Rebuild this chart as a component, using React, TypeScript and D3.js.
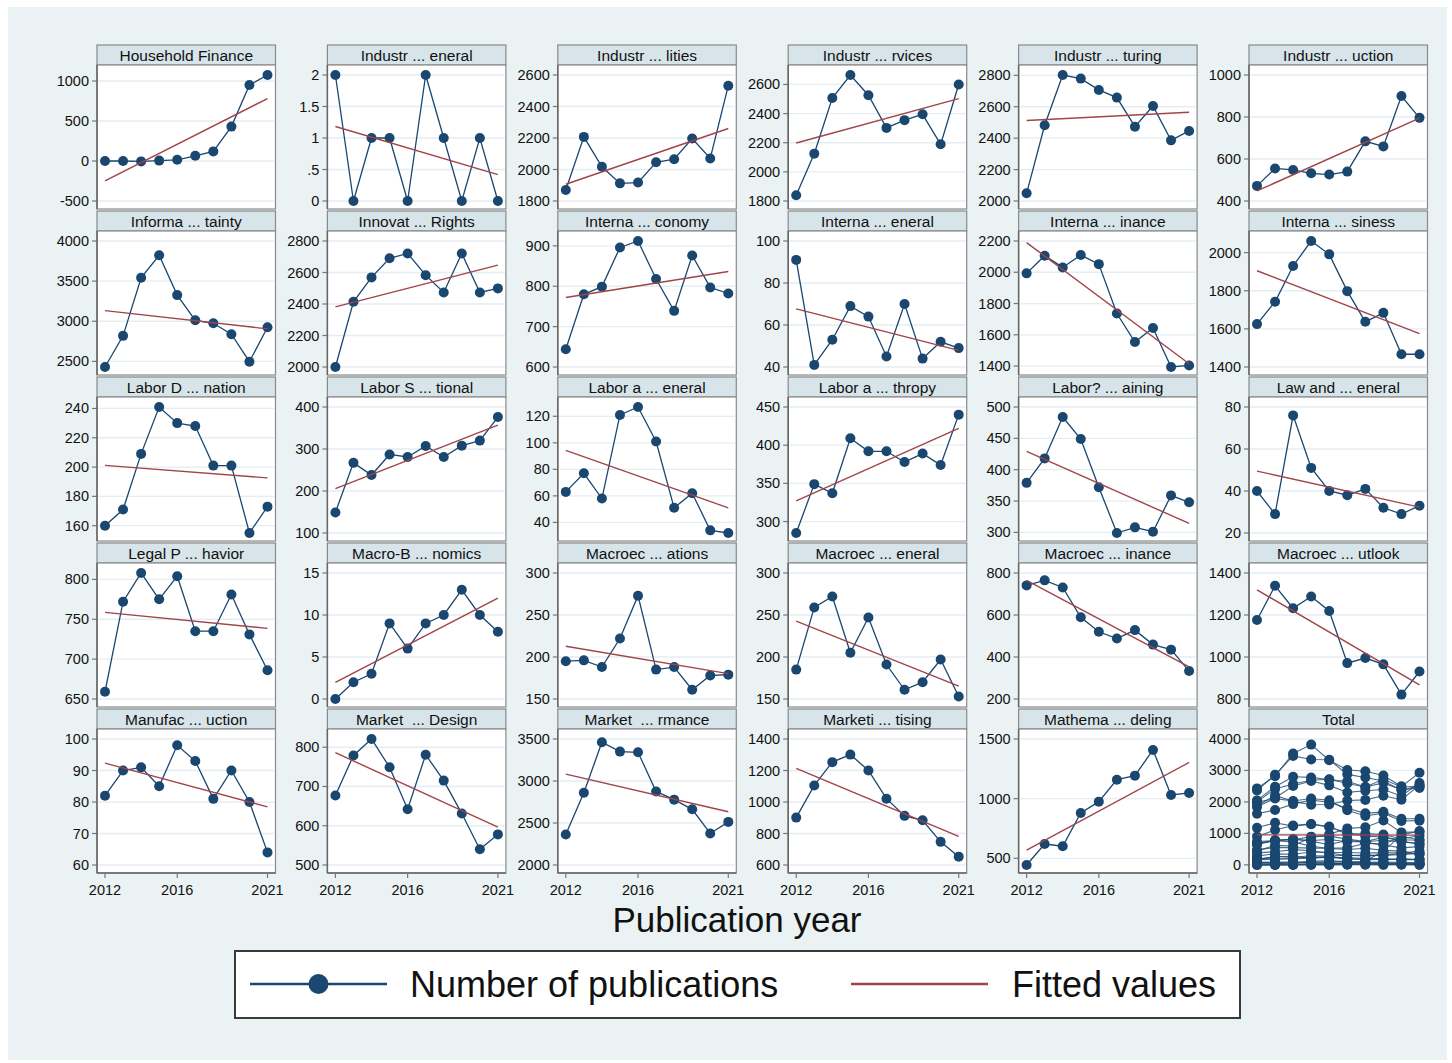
import React from "react";
import * as d3 from "d3";

// ---------- data ----------
const years = [2012, 2013, 2014, 2015, 2016, 2017, 2018, 2019, 2020, 2021];
const xTickValues = [2012, 2016, 2021];

const householdFinance = [0, 0, -5, 5, 15, 65, 120, 430, 950, 1075];
const industrialGeneral = [2, 0, 1, 1, 0, 2, 1, 0, 1, 0];
const industrialUtilities = [1870, 2207, 2017, 1912, 1917, 2046, 2065, 2197, 2070, 2532];
const industrialServices = [1839, 2125, 2507, 2665, 2526, 2302, 2355, 2395, 2189, 2600];
const industrialManufacturing = [2049, 2482, 2802, 2779, 2707, 2658, 2473, 2605, 2386, 2446];
const industrialProduction = [472, 555, 548, 532, 526, 540, 684, 660, 900, 796];
const informationUncertainty = [2430, 2818, 3541, 3822, 3326, 3012, 2975, 2839, 2496, 2926];
const innovationRights = [2000, 2414, 2569, 2690, 2721, 2583, 2473, 2721, 2473, 2499];
const internationalEconomy = [644, 780, 799, 896, 912, 818, 739, 876, 797, 782];
const internationalGeneral = [91, 41, 53, 69, 64, 45, 70, 44, 52, 49];
const internationalFinance = [1993, 2106, 2031, 2110, 2052, 1736, 1554, 1644, 1394, 1404];
const internationalBusiness = [1625, 1742, 1930, 2061, 1991, 1798, 1637, 1684, 1467, 1467];
const laborDiscrimination = [160, 171, 209, 241, 230, 228, 201, 201, 155, 173];
const laborInstitutional = [149, 267, 238, 287, 281, 307, 281, 308, 320, 376];
const laborGeneral = [63, 77, 58, 121, 127, 101, 51, 62, 34, 32];
const laborPhilanthropy = [285, 349, 337, 409, 392, 392, 378, 389, 374, 440];
const laborTraining = [379, 418, 484, 449, 372, 299, 308, 301, 359, 348];
const lawGeneral = [40, 29, 76, 51, 40, 38, 41, 32, 29, 33];
const legalBehavior = [659, 772, 808, 775, 804, 735, 735, 781, 731, 686];
const macroBehavioral = [0, 2, 3, 9, 6, 9, 10, 13, 10, 8];
const macroFluctuations = [195, 196, 188, 222, 273, 185, 188, 161, 178, 179];
const macroGeneral = [185, 259, 272, 205, 247, 191, 161, 170, 197, 153];
const macroFinance = [741, 765, 731, 589, 520, 488, 528, 459, 435, 333];
const macroOutlook = [1176, 1339, 1232, 1288, 1219, 971, 995, 965, 821, 931];
const manufacturing = [82, 90, 91, 85, 98, 93, 81, 90, 80, 64];
const marketDesign = [677, 779, 821, 749, 642, 781, 715, 631, 540, 578];
const marketPerformance = [2363, 2861, 3461, 3350, 3342, 2876, 2778, 2663, 2375, 2513];
const marketingAdvertising = [901, 1105, 1253, 1301, 1200, 1021, 912, 884, 747, 653];
const mathModeling = [444, 620, 601, 880, 975, 1159, 1193, 1408, 1031, 1048];

const panelTitles = [
  "Household Finance", "Industr ... eneral", "Industr ... lities", "Industr ... rvices", "Industr ... turing", "Industr ... uction",
  "Informa ... tainty", "Innovat ... Rights", "Interna ... conomy", "Interna ... eneral", "Interna ... inance", "Interna ... siness",
  "Labor D ... nation", "Labor S ... tional", "Labor a ... eneral", "Labor a ... thropy", "Labor? ... aining", "Law and ... eneral",
  "Legal P ... havior", "Macro-B ... nomics", "Macroec ... ations", "Macroec ... eneral", "Macroec ... inance", "Macroec ... utlook",
  "Manufac ... uction", "Market  ... Design", "Market  ... rmance", "Marketi ... tising", "Mathema ... deling", "Total",
];

const seriesList = [
  householdFinance, industrialGeneral, industrialUtilities, industrialServices, industrialManufacturing, industrialProduction,
  informationUncertainty, innovationRights, internationalEconomy, internationalGeneral, internationalFinance, internationalBusiness,
  laborDiscrimination, laborInstitutional, laborGeneral, laborPhilanthropy, laborTraining, lawGeneral,
  legalBehavior, macroBehavioral, macroFluctuations, macroGeneral, macroFinance, macroOutlook,
  manufacturing, marketDesign, marketPerformance, marketingAdvertising, mathModeling,
];

const yTickValues = [
  [-500, 0, 500, 1000], [0, 0.5, 1, 1.5, 2], [1800, 2000, 2200, 2400, 2600], [1800, 2000, 2200, 2400, 2600], [2000, 2200, 2400, 2600, 2800], [400, 600, 800, 1000],
  [2500, 3000, 3500, 4000], [2000, 2200, 2400, 2600, 2800], [600, 700, 800, 900], [40, 60, 80, 100], [1400, 1600, 1800, 2000, 2200], [1400, 1600, 1800, 2000],
  [160, 180, 200, 220, 240], [100, 200, 300, 400], [40, 60, 80, 100, 120], [300, 350, 400, 450], [300, 350, 400, 450, 500], [20, 40, 60, 80],
  [650, 700, 750, 800], [0, 5, 10, 15], [150, 200, 250, 300], [150, 200, 250, 300], [200, 400, 600, 800], [800, 1000, 1200, 1400],
  [60, 70, 80, 90, 100], [500, 600, 700, 800], [2000, 2500, 3000, 3500], [600, 800, 1000, 1200, 1400], [500, 1000, 1500], [0, 1000, 2000, 3000, 4000],
];

const legendLabels = ["Number of publications", "Fitted values"];
const xAxisTitle = "Publication year";

// ---------- styling ----------
const FONT = "'Liberation Sans', Arial, sans-serif";
const BLUE = "#1a476f";
const RED = "#a0444a";
const BG = "#eaf2f3";
const STRIP = "#d7e4ea";
const GRID = "#e4edf0";
const FRAME = "#8a8a8a";

const fmt = (v: number) => {
  const s = String(v);
  return s.startsWith("0.") ? s.slice(1) : s;
};

// OLS fit over (x, y) pairs
function olsFit(xs: number[], ys: number[]) {
  const mx = d3.mean(xs) as number;
  const my = d3.mean(ys) as number;
  let sxy = 0;
  let sxx = 0;
  xs.forEach((x, i) => {
    sxy += (x - mx) * (ys[i] - my);
    sxx += (x - mx) * (x - mx);
  });
  const b = sxy / sxx;
  return (x: number) => my + b * (x - mx);
}

function Panel({ idx }: { idx: number }) {
  const col = idx % 6;
  const row = Math.floor(idx / 6);
  const left = 97 + col * 230.4;
  const width = 178.5;
  const top = 45 + row * 166;
  const stripH = 20;
  const plotTop = top + stripH;
  const plotBottom = top + 164;
  const isTotal = idx === 29;
  const series = isTotal ? seriesList : [seriesList[idx]];

  const allX: number[] = [];
  const allY: number[] = [];
  series.forEach((s) => s.forEach((v, i) => { allX.push(years[i]); allY.push(v); }));
  const f = olsFit(allX, allY);
  const fitVals = [f(years[0]), f(years[years.length - 1])];

  const ticks = yTickValues[idx];
  const lo = Math.min(d3.min(allY) as number, d3.min(ticks) as number, ...fitVals);
  const hi = Math.max(d3.max(allY) as number, d3.max(ticks) as number, ...fitVals);

  const x = d3.scaleLinear().domain([years[0], years[years.length - 1]]).range([left + 8, left + width - 8]);
  const y = d3.scaleLinear().domain([lo, hi]).range([plotBottom - 8, plotTop + 10]);

  const line = d3.line<number>().x((_, i) => x(years[i])).y((v) => y(v));
  const fitLine = d3.line<number>().x((yr) => x(yr)).y((yr) => y(f(yr)));

  return (
    <g>
      {/* strip */}
      <rect x={left} y={top} width={width} height={stripH} fill={STRIP} stroke={FRAME} strokeWidth={1.2} />
      <text x={left + width / 2} y={top + 15.5} textAnchor="middle" fontFamily={FONT} fontSize={15.5} fill="#111" style={{ whiteSpace: "pre" }}>
        {panelTitles[idx]}
      </text>
      {/* plot region */}
      <rect x={left} y={plotTop} width={width} height={plotBottom - plotTop} fill="#fff" stroke={FRAME} strokeWidth={1.2} />
      {ticks.map((t) => (
        <g key={t}>
          <line x1={left + 1} x2={left + width - 1} y1={y(t)} y2={y(t)} stroke={GRID} strokeWidth={1.3} />
          <line x1={left - 5} x2={left} y1={y(t)} y2={y(t)} stroke="#777" strokeWidth={1.2} />
          <text x={left - 8} y={y(t) + 5} textAnchor="end" fontFamily={FONT} fontSize={14.5} fill="#111">
            {fmt(t)}
          </text>
        </g>
      ))}
      <line x1={left} x2={left} y1={plotTop} y2={plotBottom} stroke="#666" strokeWidth={1.5} />
      {row === 4 && (
        <g>
          <line x1={left} x2={left + width} y1={plotBottom} y2={plotBottom} stroke="#666" strokeWidth={1.5} />
          {xTickValues.map((t) => (
            <g key={t}>
              <line x1={x(t)} x2={x(t)} y1={plotBottom} y2={plotBottom + 5} stroke="#777" strokeWidth={1.2} />
              <text x={x(t)} y={plotBottom + 21.5} textAnchor="middle" fontFamily={FONT} fontSize={14.5} fill="#111">
                {t}
              </text>
            </g>
          ))}
        </g>
      )}
      {/* data */}
      {series.map((s, si) => (
        <path key={"l" + si} d={line(s) || ""} fill="none" stroke={BLUE} strokeWidth={isTotal ? 1.1 : 1.3} strokeOpacity={isTotal ? 0.8 : 1} />
      ))}
      {series.map((s, si) =>
        s.map((v, i) => <circle key={"c" + si + "-" + i} cx={x(years[i])} cy={y(v)} r={5} fill={BLUE} />)
      )}
      <path d={fitLine([years[0], years[years.length - 1]]) || ""} fill="none" stroke={RED} strokeWidth={1.4} />
    </g>
  );
}

export default function App() {
  return (
    <svg width={1452} height={1063} style={{ position: "absolute", left: 0, top: 0, display: "block" }}>
      <rect x={0} y={0} width={1452} height={1063} fill="#fff" />
      <rect x={8} y={7} width={1439} height={1053} fill={BG} />
      {panelTitles.map((_, i) => (
        <Panel key={i} idx={i} />
      ))}
      <text x={737} y={932} textAnchor="middle" fontFamily={FONT} fontSize={35} fill="#111">
        {xAxisTitle}
      </text>
      {/* legend */}
      <rect x={235} y={951} width={1005} height={67} fill="#fff" stroke="#3a3a3a" strokeWidth={2} />
      <line x1={250} x2={387} y1={984} y2={984} stroke={BLUE} strokeWidth={2.5} />
      <circle cx={318.5} cy={984} r={10} fill={BLUE} />
      <text x={410} y={997} fontFamily={FONT} fontSize={36} fill="#111">
        {legendLabels[0]}
      </text>
      <line x1={851} x2={988} y1={984} y2={984} stroke={RED} strokeWidth={2.5} />
      <text x={1012} y={997} fontFamily={FONT} fontSize={36} fill="#111">
        {legendLabels[1]}
      </text>
    </svg>
  );
}
